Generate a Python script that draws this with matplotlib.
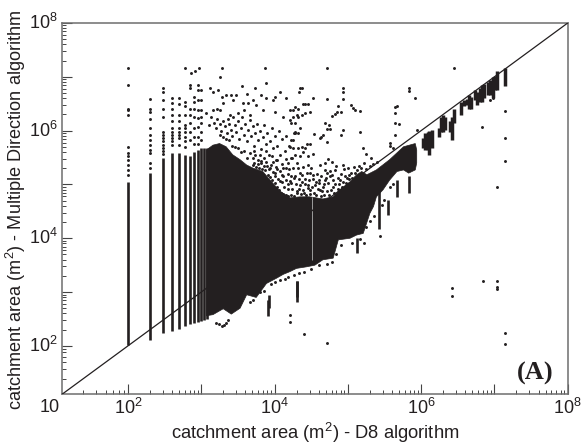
import numpy as np
import matplotlib
matplotlib.use('Agg')
import matplotlib.pyplot as plt
from matplotlib.ticker import NullFormatter

plt.rcParams['font.family'] = ['Liberation Sans', 'DejaVu Sans']
plt.rcParams['mathtext.default'] = 'regular'
INK = '#231f20'

# all exponents below are log10(m2)
# discrete columns at the small end of the D8 area
column_area = [100, 200, 300, 400, 500, 600, 700, 800, 900, 1000, 1100, 1200]
column_low = [2.02, 2.11, 2.235, 2.28, 2.32, 2.36, 2.40, 2.42, 2.44, 2.46, 2.48, 2.50]
column_high = [5.05, 5.21, 5.49, 5.58, 5.59, 5.55, 5.53, 5.61, 5.64, 5.67, 5.67, 5.67]

# dots sitting above the columns
col_dot_x = [100] * 12 + [200] * 12 + [300] * 13 + [400] * 11 + [500] * 9 + [600] * 9 + [700] * 7 + [800] * 7 + [900] * 8 + [1000] * 7
col_dot_y = [7.17, 6.85, 6.41, 6.38, 6.29, 5.70, 5.58, 5.52, 5.46, 5.36, 5.27, 5.18,
             6.58, 6.41, 6.35, 6.21, 6.04, 5.92, 5.83, 5.73, 5.64, 5.58, 5.39, 5.30,
             6.80, 6.72, 6.57, 6.41, 6.26, 5.98, 5.92, 5.86, 5.80, 5.74, 5.68, 5.62, 5.56,
             6.60, 6.52, 6.41, 6.29, 6.17, 6.04, 5.98, 5.92, 5.86, 5.80, 5.73,
             6.60, 6.50, 6.29, 6.17, 6.04, 5.98, 5.92, 5.86, 5.73,
             6.54, 6.45, 6.29, 6.11, 6.04, 5.98, 5.89, 5.80, 5.70,
             6.85, 6.79, 6.41, 6.29, 6.14, 5.98, 5.83,
             6.63, 6.54, 6.41, 6.26, 6.04, 5.89, 5.76,
             6.85, 6.76, 6.57, 6.38, 6.23, 6.07, 5.89, 5.76,
             6.76, 6.57, 6.38, 6.26, 6.14, 5.98, 5.83]

# outline of the solid mass
upper_x = [3.07, 3.16, 3.25, 3.34, 3.43, 3.53, 3.62, 3.71, 3.84, 3.94, 4.07, 4.21, 4.35, 4.48, 4.66, 4.80, 4.89, 5.03, 5.12, 5.19, 5.26, 5.39, 5.57, 5.76, 5.92, 5.94]
upper_y = [5.64, 5.73, 5.76, 5.70, 5.55, 5.46, 5.36, 5.30, 5.24, 5.08, 4.88, 4.75, 4.77, 4.77, 4.73, 4.77, 4.90, 5.05, 5.18, 5.24, 5.18, 5.27, 5.46, 5.70, 5.76, 5.64]
lower_x = [3.07, 3.16, 3.30, 3.41, 3.53, 3.62, 3.75, 3.89, 4.03, 4.12, 4.21, 4.30, 4.44, 4.55, 4.66, 4.80, 4.87, 5.03, 5.12, 5.21, 5.30, 5.35, 5.39, 5.48, 5.57, 5.67, 5.76, 5.83, 5.92, 5.94]
lower_y = [2.56, 2.58, 2.69, 2.59, 2.70, 2.95, 2.90, 3.16, 3.26, 3.33, 3.38, 3.44, 3.47, 3.50, 3.60, 3.63, 3.97, 4.00, 4.06, 4.09, 4.46, 4.59, 4.77, 4.90, 5.08, 5.24, 5.27, 5.21, 5.27, 5.40]

# vertical runs: tails of the mass
tail_x = [3.91, 3.93, 4.30, 4.31, 5.13, 5.42, 5.55, 5.67, 5.83]
tail_lo = [2.56, 2.70, 2.81, 2.90, 3.72, 4.17, 4.43, 4.77, 4.85]
tail_hi = [2.85, 2.95, 3.20, 3.20, 4.00, 4.90, 4.71, 5.08, 5.15]

# clusters along the 1:1 line
strip_x = [6.02, 6.05, 6.09, 6.11, 6.15, 6.24, 6.27, 6.30, 6.33, 6.39, 6.42, 6.45,
           6.54, 6.58, 6.62, 6.65, 6.68, 6.74, 6.76, 6.80, 6.83, 6.86,
           6.91, 6.94, 6.98, 7.01, 7.04, 7.15]
strip_lo = [5.67, 5.64, 5.64, 5.55, 5.67, 5.89, 5.98, 5.98, 6.01, 5.98, 5.83, 6.14,
            6.29, 6.45, 6.48, 6.41, 6.41, 6.57, 6.48, 6.54, 6.54, 6.60,
            6.66, 6.66, 6.60, 6.76, 6.76, 6.82]
strip_hi = [5.86, 5.95, 5.98, 6.00, 6.01, 6.04, 6.26, 6.29, 6.26, 6.17, 6.26, 6.41,
            6.54, 6.57, 6.58, 6.66, 6.63, 6.76, 6.72, 6.79, 6.85, 6.87,
            6.91, 6.95, 7.00, 7.02, 7.10, 7.16]

# loose points
cloud_x = [2.78, 2.86, 2.91, 2.97, 3.28, 3.26, 3.87, 3.88, 3.12, 3.16, 3.23, 3.28, 3.34, 3.41, 3.48, 3.56, 3.62, 3.74, 3.81, 3.89, 4.00,
           4.07, 4.16, 3.98, 3.71, 3.64, 3.57, 3.43, 3.30, 3.21, 3.07, 3.16, 3.25, 3.39, 3.50, 3.59, 3.66, 3.75, 3.84, 4.00, 4.12, 4.21,
           3.10, 3.13, 3.18, 3.20, 3.22, 3.25, 3.27, 3.30, 3.32, 3.35, 3.36, 3.38, 3.40, 3.42, 3.44, 3.46, 3.48, 3.50, 3.52, 3.54, 3.56,
           3.58, 3.60, 3.62, 3.64, 3.66, 3.68, 3.70, 3.72, 3.74, 3.76, 3.78, 3.80, 3.82, 3.84, 3.86, 3.88, 3.90, 3.92, 3.94, 3.96, 3.98,
           4.00, 4.02, 4.04, 4.06, 4.08, 4.10, 4.12, 4.14, 4.16, 4.18, 4.20, 4.22, 4.24, 4.26,
           3.78, 3.82, 3.86, 3.90, 3.94, 3.98, 4.00, 4.02, 4.05, 4.08, 4.10, 4.12, 4.15, 4.18, 4.19, 3.74, 3.70, 3.66, 3.62, 3.58, 3.54,
           3.50, 3.46, 3.42, 3.38, 3.34, 3.30, 3.26, 3.72, 3.80, 3.88, 3.96, 4.04, 4.10, 4.16, 4.20,
           4.71, 6.45, 4.94, 4.94, 4.94, 4.37, 4.35, 4.33, 4.53, 4.72, 4.87, 5.05, 5.07, 5.10, 5.17, 4.85, 4.82, 4.79, 4.91,
           5.83, 5.83, 5.92, 5.67, 5.65, 5.64, 5.64, 5.70, 5.64, 5.94, 5.57, 5.57, 5.62, 5.21, 5.25, 5.32, 5.17, 4.94, 4.91,
           4.69, 4.74, 4.72, 4.75, 4.66, 4.64, 4.62, 4.54, 4.72, 4.35, 4.32, 4.28, 4.25, 4.30, 4.37, 4.41, 4.48, 4.25, 4.32, 4.41, 4.46, 4.39, 4.28,
           4.62, 4.69, 4.73, 4.78, 4.82, 4.69, 4.46, 4.39, 4.32, 4.25, 4.35, 4.48, 4.53, 4.42, 4.28, 4.23, 4.35, 4.46, 4.60, 4.71, 4.75, 4.69,
           4.80, 4.94, 4.89, 4.96, 5.01, 4.80, 4.62, 4.48, 4.66, 4.39, 4.30, 4.55,
           4.44, 4.48, 4.42, 4.39, 4.35, 4.53, 4.37, 4.32, 4.25, 4.23, 4.30, 4.46, 4.28, 4.21, 4.23, 4.28, 4.23, 4.28, 4.32, 4.25, 4.21,
           6.83, 7.04, 6.94, 6.98, 7.15, 7.15, 7.15, 6.42, 6.42, 6.84, 7.04, 7.04, 7.04, 7.15, 7.15, 4.40, 4.72, 4.21, 4.21, 5.44,
           3.20, 3.24, 3.28, 3.31, 3.34, 3.36]
cloud_y = [7.17, 7.08, 7.10, 7.16, 7.17, 6.99, 7.17, 6.89, 6.79, 6.72, 6.76, 6.63, 6.66, 6.66, 6.67, 6.83, 6.68, 6.79, 6.66, 6.60, 6.63,
           6.71, 6.60, 6.57, 6.57, 6.51, 6.51, 6.57, 6.51, 6.41, 6.32, 6.38, 6.38, 6.29, 6.32, 6.38, 6.29, 6.48, 6.38, 6.35, 6.26, 6.20,
           6.10, 6.25, 6.15, 6.05, 6.22, 6.12, 6.00, 6.18, 6.08, 5.95, 6.22, 6.12, 6.02, 5.90, 6.25, 6.10, 5.98, 6.18, 5.85, 6.05, 6.25,
           5.92, 6.12, 5.80, 6.02, 6.20, 5.90, 6.08, 5.72, 5.95, 6.12, 5.82, 6.00, 5.65, 5.88, 6.10, 5.75, 5.95, 5.55, 5.80, 6.05, 5.68,
           5.90, 5.45, 5.72, 6.00, 5.55, 5.85, 5.30, 5.62, 5.90, 5.40, 5.72, 5.15, 5.50, 5.95,
           5.45, 5.40, 5.50, 5.35, 5.30, 5.42, 5.22, 5.32, 5.10, 5.25, 5.05, 5.15, 5.30, 5.00, 5.20, 5.55, 5.50, 5.58, 5.50, 5.62, 5.60,
           5.68, 5.70, 5.72, 5.82, 5.85, 5.88, 5.92, 5.62, 5.55, 5.62, 5.52, 5.45, 5.38, 5.48, 5.28,
           7.17, 7.16, 6.80, 6.72, 6.59, 6.79, 6.79, 6.72, 6.61, 6.58, 6.46, 6.48, 6.42, 6.38, 6.37, 6.34, 6.31, 6.27, 6.34,
           6.80, 6.74, 6.60, 6.46, 6.43, 6.32, 6.15, 6.12, 5.92, 6.02, 5.77, 5.71, 5.67, 5.67, 5.57, 5.49, 5.98, 6.01, 5.92,
           6.15, 6.10, 6.03, 6.03, 5.92, 5.89, 5.86, 5.94, 5.78, 6.04, 5.96, 5.95, 5.83, 6.29, 6.29, 6.32, 6.35, 6.38, 6.41, 6.49, 6.49, 6.49, 6.43,
           5.36, 5.39, 5.47, 5.42, 5.27, 5.27, 5.36, 5.33, 5.30, 5.30, 5.21, 5.21, 5.11, 5.11, 5.15, 5.02, 4.99, 4.99, 5.08, 5.21, 5.15, 5.08,
           5.08, 5.36, 5.08, 5.15, 5.18, 4.96, 4.90, 4.90, 4.96, 4.90, 4.87, 4.99,
           5.75, 5.76, 5.67, 5.61, 5.52, 5.57, 5.70, 5.67, 5.67, 5.49, 5.39, 5.52, 5.55, 5.70, 5.83, 5.98, 6.15, 6.14, 6.25, 6.26, 6.38,
           6.06, 4.96, 6.57, 6.60, 6.37, 5.86, 5.43, 3.08, 2.92, 3.20, 3.21, 3.10, 3.06, 2.24, 2.03, 2.22, 2.05, 2.58, 2.45, 4.05,
           2.42, 2.40, 2.36, 2.38, 2.43, 2.48]

# dense points hugging the top of the mass
edge_top_x = [3.70, 3.72, 3.75, 3.77, 3.79, 3.81, 3.83, 3.85, 3.87, 3.89, 3.91, 3.92, 3.94, 3.95, 3.97, 3.98, 4.00, 4.01, 4.03, 4.04,
              4.06, 4.07, 4.09, 4.10, 4.12, 4.13, 4.15, 4.16, 4.18, 4.19, 4.21, 4.23, 4.24, 4.26, 4.27, 4.29, 4.31, 4.33, 4.34, 4.36,
              4.37, 4.38, 4.40, 4.41, 4.43, 4.44, 4.45, 4.47, 4.49, 4.50, 4.51, 4.52, 4.54, 4.56, 4.57, 4.58, 4.59, 4.61, 4.63, 4.64,
              4.65, 4.67, 4.68, 4.70, 4.72, 4.73, 4.74, 4.76, 4.77, 4.79, 4.81, 4.83, 4.84, 4.86, 4.87, 4.88, 4.90, 4.92, 4.93, 4.95,
              4.97, 4.99, 5.00, 5.02, 5.04, 5.06, 5.08, 5.10, 5.13, 5.15, 5.18, 5.22, 5.25, 5.30, 5.34, 5.40]
edge_top_y = [5.36, 5.40, 5.33, 5.38, 5.30, 5.44, 5.28, 5.35, 5.26, 5.41, 5.18, 5.28, 5.14, 5.36, 5.08, 5.24, 5.02, 5.16, 4.95, 5.28,
              4.90, 5.06, 4.85, 5.18, 4.82, 4.96, 4.80, 5.08, 4.78, 4.92, 5.06, 4.80, 4.92, 5.12, 4.78, 5.00, 4.84, 5.10, 4.92, 4.82,
              5.05, 5.18, 4.85, 5.00, 4.80, 5.22, 4.94, 5.08, 4.82, 5.30, 4.95, 5.18, 4.85, 5.05, 4.80, 5.20, 4.92, 5.02, 4.78, 5.15,
              4.88, 5.00, 4.80, 5.12, 4.88, 5.02, 4.80, 5.25, 4.90, 5.18, 4.85, 5.00, 5.35, 4.92, 5.12, 5.00, 5.20, 4.96, 5.05, 5.28,
              5.02, 5.12, 5.30, 5.10, 5.22, 5.12, 5.32, 5.22, 5.27, 5.35, 5.30, 5.40, 5.28, 5.35, 5.38, 5.42]

# and the jagged bottom of the mass
edge_low_x = [3.66, 3.70, 3.80, 3.85, 3.95, 4.00, 4.08, 4.14, 4.18, 4.26, 4.34, 4.40, 4.50, 4.60, 4.72, 4.78, 4.84, 4.90, 5.06, 5.16, 5.22, 5.25, 5.30, 5.36, 5.46, 5.50, 5.58, 5.62]
edge_low_y = [2.82, 2.85, 3.00, 3.02, 3.15, 3.18, 3.22, 3.25, 3.28, 3.32, 3.35, 3.38, 3.42, 3.50, 3.52, 3.55, 3.70, 3.88, 3.92, 3.98, 3.92, 4.20, 4.32, 4.42, 4.62, 4.72, 4.95, 5.00]

gap_x = [4.514]
gap_lo = [3.60]
gap_hi = [4.77]

# ticks, as they are placed on the original axes
axis_low = 1.1
first_decade_ticks = [1.385, 1.567, 1.695, 1.795, 1.877, 1.94]
major_exp = [2, 3, 4, 5, 6, 7]
label_exp = [2, 4, 6, 8]


def pow10(values):
    return 10.0 ** np.array(values, dtype=float)


def main():
    fig = plt.figure(figsize=(5.81, 4.45), dpi=100)
    ax = fig.add_axes([62 / 581, (445 - 394.3) / 445, 505.7 / 581, 371.3 / 445])
    ax.set_xscale('log')
    ax.set_yscale('log')
    ax.set_xlim(10 ** axis_low, 1e8)
    ax.set_ylim(10 ** axis_low, 1e8)

    # solid mass
    mass_x = pow10(upper_x + lower_x[::-1])
    mass_y = pow10(upper_y + lower_y[::-1])
    ax.fill(mass_x, mass_y, color=INK, lw=0.5, zorder=2)

    ax.vlines(column_area, pow10(column_low), pow10(column_high), color=INK, lw=1.9, zorder=2)
    ax.vlines(pow10(tail_x), pow10(tail_lo), pow10(tail_hi), color=INK, lw=1.9, zorder=2)
    ax.vlines(pow10(strip_x), pow10(strip_lo), pow10(strip_hi), color=INK, lw=2.5, zorder=2)
    ax.vlines(pow10(gap_x), pow10(gap_lo), pow10(gap_hi), color='#b0b0b0', lw=0.6, zorder=3)

    ax.scatter(col_dot_x, pow10(col_dot_y), s=4.5, color=INK, lw=0, zorder=2)
    ax.scatter(pow10(cloud_x), pow10(cloud_y), s=4.5, color=INK, lw=0, zorder=2)
    ax.scatter(pow10(edge_top_x), pow10(edge_top_y), s=4.5, color=INK, lw=0, zorder=2)
    ax.scatter(pow10(edge_low_x), pow10(edge_low_y), s=4.5, color=INK, lw=0, zorder=2)

    # 1:1 line
    ax.plot([10 ** axis_low, 1e8], [10 ** axis_low, 1e8], color=INK, lw=0.9, zorder=4)

    # ticks
    minor = []
    for d in range(2, 8):
        minor += [k * 10.0 ** d for k in range(2, 10)]
    minor += list(pow10(first_decade_ticks))
    for axis in (ax.xaxis, ax.yaxis):
        axis.set_ticks(pow10(major_exp + label_exp[-1:]))
        axis.set_ticks(minor, minor=True)
        axis.set_major_formatter(NullFormatter())
        axis.set_minor_formatter(NullFormatter())
    ax.tick_params(which='major', direction='in', length=7.5, width=0.8, color='#444444')
    ax.tick_params(which='minor', direction='in', length=3.2, width=0.7, color='#444444')

    for spine in ax.spines.values():
        spine.set_color('#6e6e6e')
        spine.set_linewidth(1.1)

    # tick labels as real text placed beside the axes
    for e in label_exp:
        ax.annotate('$10^{%d}$' % e, (10.0 ** e, 0), xycoords=('data', 'axes fraction'),
                    xytext=(0, -2.5), textcoords='offset points', ha='center', va='top',
                    fontsize=13, color=INK, annotation_clip=False)
        ax.annotate('$10^{%d}$' % e, (0, 10.0 ** e), xycoords=('axes fraction', 'data'),
                    xytext=(-3, 0), textcoords='offset points', ha='right', va='center',
                    fontsize=13, color=INK, annotation_clip=False)
    fig.text(50 / 581, 1 - 408 / 445, '10', ha='center', va='center', fontsize=13, color=INK)

    fig.text(315 / 581, 1 - 433 / 445, 'catchment area (m$^2$) - D8 algorithm',
             ha='center', va='center', fontsize=13.2, color=INK)
    fig.text(16 / 581, 1 - 209.5 / 445, 'catchment area (m$^2$) - Multiple Direction algorithm',
             ha='center', va='center', rotation=90, fontsize=13.1, color=INK)
    fig.text(535 / 581, 1 - 373 / 445, '(A)', ha='center', va='center', fontsize=19,
             fontweight='bold', family='Liberation Serif', color=INK)

    fig.savefig('out.png', dpi=100)


if __name__ == "__main__":
    main()
